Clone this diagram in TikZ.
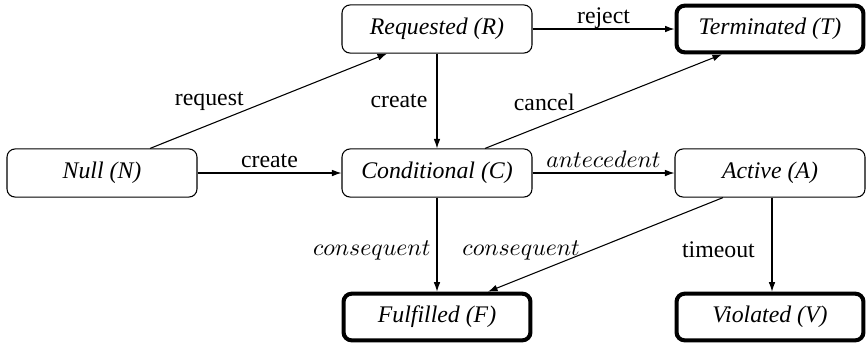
\documentclass[tikz,border=0pt]{standalone}
\usepackage{fontspec}
\setmainfont{Liberation Serif}
\usetikzlibrary{arrows.meta,calc}
\begin{document}
\begin{tikzpicture}[x=0.42pt,y=-0.42pt,
  state/.style={draw,rounded corners=3.4pt,minimum width=79.8pt,minimum height=20.2pt,inner sep=0pt,font=\itshape,line width=0.45pt},
  final/.style={state,line width=1.7pt,minimum width=78.5pt,minimum height=19.6pt},
  arr/.style={-{Latex[length=4pt,width=2.8pt]},line width=0.45pt},
  lbl/.style={inner sep=0pt,text depth=0pt}]
\useasboundingbox (0,0) rectangle (866,346);
\node[state] (N) at (102,173) {Null (N)};
\node[state] (R) at (437,29) {Requested (R)};
\node[final] (T) at (770,29) {Terminated (T)};
\node[state] (C) at (437,173) {Conditional (C)};
\node[state] (A) at (770,173) {Active (A)};
\node[final] (F) at (437,317) {Fulfilled (F)};
\node[final] (V) at (770,317) {Violated (V)};

\draw[arr] ($(N.north)+(48,0)$) -- ($(R.south)+(-50,0)$)
  node[lbl,pos=0.25,anchor=south,yshift=8pt] {request};
\draw[arr] (N.east) -- (C.west)
  node[lbl,midway,anchor=south,yshift=2.1pt] {create};
\draw[arr] (R.south) -- (C.north)
  node[lbl,midway,anchor=east,xshift=-3.8pt] {create};
\draw[arr] (R.east) -- (T.west)
  node[lbl,midway,anchor=south,yshift=2.1pt] {reject};
\draw[arr] ($(C.north)+(48,0)$) -- ($(T.south)+(-48,0)$)
  node[lbl,pos=0.25,anchor=south,yshift=6pt] {cancel};
\draw[arr] (C.east) -- (A.west)
  node[lbl,midway,anchor=south,yshift=2.1pt] {$antecedent$};
\draw[arr] (C.south) -- (F.north)
  node[lbl,midway,anchor=east,xshift=-2.5pt,yshift=-1.5pt] {$consequent$};
\draw[arr] ($(A.south)+(-47,0)$) -- ($(F.north)+(51,0)$)
  node[lbl,midway,anchor=east,xshift=-10.5pt,yshift=-1.5pt] {$consequent$};
\draw[arr] ($(A.south)+(2,0)$) -- ($(V.north)+(2,0)$)
  node[lbl,midway,anchor=east,xshift=-7pt,yshift=-2.3pt] {timeout};
\end{tikzpicture}
\end{document}
